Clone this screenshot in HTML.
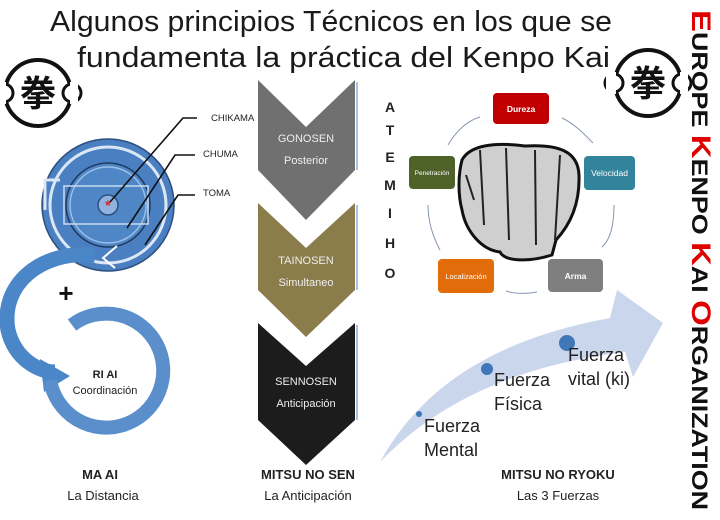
<!DOCTYPE html>
<html><head><meta charset="utf-8"><style>
body{margin:0;background:#fff;}
svg{display:block;font-family:"Liberation Sans","Noto Sans CJK JP",sans-serif;}
</style></head><body>
<svg width="720" height="520" viewBox="0 0 720 520" xmlns="http://www.w3.org/2000/svg">
<rect width="720" height="520" fill="#fff"/>
<!-- Title -->
<text x="50" y="31" font-size="29" fill="#1a1a1a" textLength="562" lengthAdjust="spacingAndGlyphs">Algunos principios Técnicos en los que se</text>
<text x="77" y="67" font-size="29" fill="#1a1a1a" textLength="533" lengthAdjust="spacingAndGlyphs">fundamenta la práctica del Kenpo Kai</text>

<!-- Logos -->
<g>
<circle cx="38" cy="93" r="33" fill="#fff" stroke="#111" stroke-width="4"/>
<circle cx="4" cy="93" r="9" fill="#fff" stroke="#111" stroke-width="3"/>
<circle cx="72" cy="93" r="9" fill="#fff" stroke="#111" stroke-width="3"/>
<rect x="0" y="82" width="6" height="22" fill="#fff"/>
<rect x="70" y="82" width="8" height="22" fill="#fff"/>
<text x="38" y="106" font-size="36" font-weight="bold" text-anchor="middle" fill="#111" font-family="Noto Sans CJK JP,sans-serif">拳</text>
</g>
<g>
<circle cx="648" cy="83" r="33" fill="#fff" stroke="#111" stroke-width="4"/>
<circle cx="614" cy="83" r="9" fill="#fff" stroke="#111" stroke-width="3"/>
<circle cx="682" cy="83" r="9" fill="#fff" stroke="#111" stroke-width="3"/>
<rect x="606" y="72" width="10" height="22" fill="#fff"/>
<rect x="680" y="72" width="8" height="22" fill="#fff"/>
<text x="648" y="96" font-size="36" font-weight="bold" text-anchor="middle" fill="#111" font-family="Noto Sans CJK JP,sans-serif">拳</text>
</g>

<!-- Circle diagram -->
<circle cx="108" cy="205" r="66" fill="#4a7fc1" stroke="#2d4f80" stroke-width="1.5"/>
<circle cx="108" cy="205" r="58" fill="none" stroke="#dbe7f5" stroke-width="3"/>
<circle cx="108" cy="205" r="42" fill="#4f86c6" stroke="#1f3a60" stroke-width="1.5"/>
<circle cx="108" cy="205" r="38" fill="none" stroke="#9ec0e6" stroke-width="1.5"/>
<rect x="64" y="186" width="84" height="38" fill="none" stroke="#c9dcf2" stroke-width="1.5"/>
<circle cx="108" cy="205" r="10" fill="#8fb3de" stroke="#2d4f80" stroke-width="1.5"/>
<text x="108" y="210" font-size="14" fill="#e02020" text-anchor="middle" font-weight="bold">*</text>
<path d="M45 210 L45 180 L60 180" fill="none" stroke="#dbe7f5" stroke-width="3"/>
<g stroke="#111" stroke-width="1.6" fill="none">
<path d="M110 202 L183 118 L197 118"/>
<path d="M127 228 L175 155 L195 155"/>
<path d="M145 245 L178 195 L195 195"/>
</g>
<text x="211" y="121" font-size="9.5" fill="#222">CHIKAMA</text>
<text x="203" y="157" font-size="9.5" fill="#222">CHUMA</text>
<text x="203" y="196" font-size="9.5" fill="#222">TOMA</text>

<!-- curved arrow to RI AI -->
<path d="M95 255 C40 250 0 285 8 330 C15 360 40 372 55 372" fill="none" stroke="#4a86c8" stroke-width="15"/>
<path d="M40 359 L70 376 L44 392 Z" fill="#4a86c8"/>
<path d="M117 246 L103 258 L115 268" fill="none" stroke="#fff" stroke-width="2"/>
<path d="M72 325 A57 57 0 1 1 50 380" fill="none" stroke="#5b8fcc" stroke-width="14"/>
<text x="66" y="302" font-size="26" font-weight="bold" fill="#111" text-anchor="middle">+</text>
<text x="105" y="378" font-size="11" font-weight="bold" fill="#222" text-anchor="middle">RI AI</text>
<text x="105" y="394" font-size="11" fill="#222" text-anchor="middle">Coordinación</text>

<!-- Chevrons -->
<path d="M258 80 L306 127 L355 80 L355 170 L306 220 L258 170 Z" fill="#707070"/>
<path d="M258 203 L306 248 L355 203 L355 290 L306 337 L258 290 Z" fill="#8b7d4b"/>
<path d="M258 323 L306 366 L355 323 L355 420 L306 465 L258 420 Z" fill="#1c1c1c"/>
<path d="M357 82 L357 170 M357 205 L357 290 M357 325 L357 420" stroke="#a9c1e3" stroke-width="2"/>
<g fill="#eee" font-size="11" text-anchor="middle">
<text x="306" y="142">GONOSEN</text><text x="306" y="164">Posterior</text>
<text x="306" y="264">TAINOSEN</text><text x="306" y="286">Simultaneo</text>
<text x="306" y="385">SENNOSEN</text><text x="306" y="407">Anticipación</text>
</g>
<g font-size="14" font-weight="bold" fill="#222" text-anchor="middle">
<text x="390" y="112">A</text><text x="390" y="135">T</text><text x="390" y="162">E</text><text x="390" y="190">M</text><text x="390" y="218">I</text><text x="390" y="248">H</text><text x="390" y="278">O</text>
</g>

<!-- Fist cycle -->
<g fill="none" stroke="#8596b0" stroke-width="1">
<path d="M448 145 C458 128 470 120 480 117"/>
<path d="M562 118 C575 124 585 135 593 143"/>
<path d="M614 205 C614 225 610 240 602 247"/>
<path d="M537 292 C525 294 515 294 506 291"/>
<path d="M440 250 C432 235 428 220 428 205"/>
</g>
<path d="M462 160 C470 145 495 142 525 146 C560 144 578 152 579 175 C580 205 570 225 556 240 L552 255 C530 262 505 262 500 252 C482 250 466 232 462 210 C458 195 458 175 462 160 Z" fill="#cfcfcf" stroke="#111" stroke-width="3"/>
<g stroke="#222" stroke-width="2" fill="none">
<path d="M480 150 L484 225"/><path d="M506 148 L509 240"/><path d="M535 150 L536 245"/><path d="M560 155 L555 240"/>
<path d="M466 175 L474 200"/>
</g>
<rect x="493" y="93" width="56" height="31" rx="4" fill="#c00000"/>
<text x="521" y="112" font-size="8.5" font-weight="bold" fill="#fff" text-anchor="middle">Dureza</text>
<rect x="584" y="156" width="51" height="34" rx="4" fill="#31849b"/>
<text x="609.5" y="176" font-size="8.5" fill="#fff" text-anchor="middle">Velocidad</text>
<rect x="548" y="259" width="55" height="33" rx="4" fill="#7f7f7f"/>
<text x="575.5" y="279" font-size="8.5" font-weight="bold" fill="#fff" text-anchor="middle">Arma</text>
<rect x="438" y="259" width="56" height="34" rx="4" fill="#e36c0a"/>
<text x="466" y="279" font-size="7.5" fill="#fff" text-anchor="middle">Localización</text>
<rect x="409" y="156" width="46" height="33" rx="4" fill="#4f6228"/>
<text x="432" y="175" font-size="6.5" fill="#fff" text-anchor="middle">Penetración</text>

<!-- Big arrow -->
<path d="M380 462 C420 390 490 340 610 318 L617 290 L663 323 L633 377 L625 352 C520 365 440 400 380 462 Z" fill="#c9d6ec"/>
<circle cx="419" cy="414" r="3" fill="#3f77b8"/>
<circle cx="487" cy="369" r="6" fill="#3f77b8"/>
<circle cx="567" cy="343" r="8" fill="#3f77b8"/>
<g font-size="18" fill="#222">
<text x="424" y="432">Fuerza</text><text x="424" y="456">Mental</text>
<text x="494" y="386">Fuerza</text><text x="494" y="410">Física</text>
<text x="568" y="361">Fuerza</text><text x="568" y="385">vital (ki)</text>
</g>

<!-- Bottom labels -->
<g font-size="13" fill="#222" text-anchor="middle">
<text x="100" y="479" font-weight="bold">MA AI</text><text x="103" y="500">La  Distancia</text>
<text x="308" y="479" font-weight="bold">MITSU NO SEN</text><text x="308" y="500">La Anticipación</text>
<text x="558" y="479" font-weight="bold">MITSU NO RYOKU</text><text x="558" y="500">Las 3 Fuerzas</text>
</g>

<!-- Vertical org name -->
<g transform="translate(692,10) rotate(90)">
<text x="0" y="0" font-size="22" font-weight="bold" fill="#111" textLength="500" lengthAdjust="spacingAndGlyphs"><tspan fill="#e00000" font-size="27">E</tspan>UROPE <tspan fill="#e00000" font-size="27">K</tspan>ENPO <tspan fill="#e00000" font-size="27">K</tspan>AI <tspan fill="#e00000" font-size="27">O</tspan>RGANIZATION</text>
</g>
</svg>
</body></html>
